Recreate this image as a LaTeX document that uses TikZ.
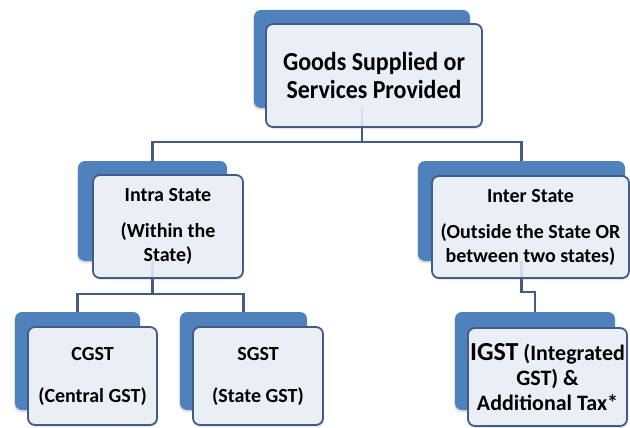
\documentclass[tikz,border=0pt]{standalone}
\usepackage{fontspec}
\setmainfont{Carlito}
\newfontfamily\serre{Carlito}[FakeStretch=0.92]
\usetikzlibrary{positioning,shadows,calc}
\definecolor{bleuFond}{RGB}{79,129,189}
\definecolor{bleuTrait}{RGB}{66,92,134}
\definecolor{fondCase}{RGB}{234,238,245}

\begin{document}
\begin{tikzpicture}[x=1pt,y=-1pt,font=\bfseries\fontsize{20}{24}\selectfont]
%arriere : rectangle bleu, case : rectangle clair qui porte le texte
\tikzset{arriere/.style={fill=bleuFond,rounded corners=7pt,inner sep=0pt,
  drop shadow={shadow xshift=-1pt,shadow yshift=-2pt,opacity=0.25}}}
\tikzset{case/.style={draw=bleuTrait,line width=1.8pt,fill=fondCase,
  rounded corners=7pt,align=center,inner sep=0pt,
  drop shadow={shadow xshift=1pt,shadow yshift=-2pt,opacity=0.2}}}
\tikzset{lien/.style={draw=bleuTrait,line width=2.5pt}}
\useasboundingbox (0,0) rectangle (630,428);
%rectangles du fond
\node[arriere,minimum width=216pt,minimum height=98pt] (biensB) at (362,59) {};
\node[arriere,minimum width=149pt,minimum height=100pt] (intraB) at (152.5,211) {};
\node[arriere,minimum width=207pt,minimum height=100pt] (interB) at (521.5,211) {};
\node[arriere,minimum width=125pt,minimum height=98pt] (cgstB) at (77.5,361) {};
\node[arriere,minimum width=127pt,minimum height=98pt] (sgstB) at (243.5,361) {};
\node[arriere,minimum width=160pt,minimum height=98pt] (igstB) at (535,361) {};
%liaisons
\draw[lien] (biensB.south) -- ++(0,34) -| (intraB.north);
\draw[lien] (biensB.south) -- ++(0,34) -| (interB.north);
\draw[lien] (intraB.south) -- ++(0,33) -| (cgstB.north);
\draw[lien] (intraB.south) -- ++(0,33) -| (sgstB.north);
\draw[lien] (interB.south) -- ++(0,31) -| (igstB.north);
%cases avec texte
\node[case,minimum width=216pt,minimum height=103pt,font=\serre\bfseries\fontsize{26}{28}\selectfont] (biens) at (374,75.5)
  {Goods Supplied or\\Services Provided};
\node[case,minimum width=150pt,minimum height=103pt] (intra) at (168,226.5)
  {Intra State\\[12pt](Within the\\State)};
\node[case,minimum width=197pt,minimum height=102pt] (inter) at (530.5,227)
  {Inter State\\[12pt](Outside the State OR\\between two states)};
\node[case,minimum width=129pt,minimum height=98pt] (cgst) at (92.5,376)
  {CGST\\[18pt](Central GST)};
\node[case,minimum width=130pt,minimum height=98pt] (sgst) at (258,376)
  {SGST\\[18pt](State GST)};
\node[case,minimum width=159pt,minimum height=98pt,font=\bfseries\fontsize{22}{25}\selectfont] (igst) at (547.5,377)
  {{\fontsize{26}{28}\selectfont IGST} (Integrated\\GST) \&\\Additional Tax*};
%traits vus au travers des cases
\draw[lien,opacity=0.12] (biensB.south) -- ++(0,19);
\draw[lien,opacity=0.12] (intraB.south) -- ++(0,18);
\draw[lien,opacity=0.12] (interB.south) -- ++(0,16);
\end{tikzpicture}
\end{document}
